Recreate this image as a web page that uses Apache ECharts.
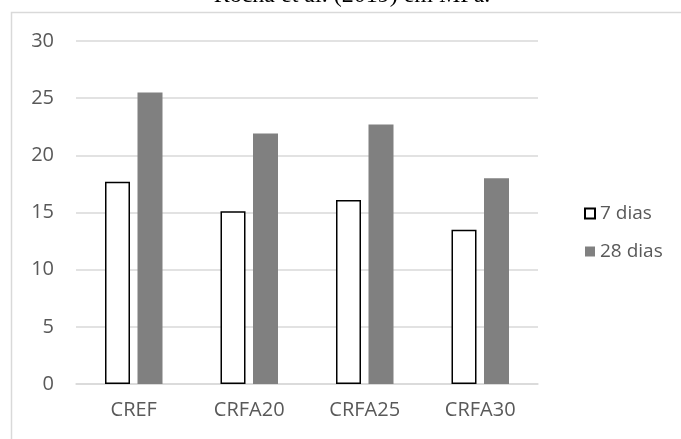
<!DOCTYPE html>
<html>
<head>
<meta charset="utf-8">
<script src="https://cdn.jsdelivr.net/npm/echarts@6/dist/echarts.min.js"></script>
<style>
  html, body { margin: 0; padding: 0; background: #fff; }
  #chart { width: 681px; height: 439px; }
</style>
</head>
<body>
<div id="chart"></div>
<script>
// Compressive strength (MPa) at 7 and 28 days per mix
const categories = ['CREF', 'CRFA20', 'CRFA25', 'CRFA30'];
const dias7 = [17.7, 15.1, 16.1, 13.5];
const dias28 = [25.5, 21.9, 22.7, 18.0];
const yTicks = [0, 5, 10, 15, 20, 25, 30];

const textColor = '#595959';
const gridColor = '#d9d9d9';
const labelFont = '"Open Sans", "Noto Sans", sans-serif';

const chart = echarts.init(document.getElementById('chart'), null, { renderer: 'canvas' });

chart.setOption({
  animation: false,
  backgroundColor: '#ffffff',
  graphic: [
    {
      // frame of the chart area (only top and left edges fall inside the page)
      type: 'rect',
      shape: { x: 11.5, y: 12.5, width: 900, height: 700 },
      style: { fill: 'none', stroke: gridColor, lineWidth: 1.5 },
      z: 0
    },
    {
      type: 'text',
      style: {
        text: 'Rocha et al. (2019) em MPa.',
        font: '24px "Liberation Serif", "DejaVu Serif", serif',
        fill: '#000',
        x: 352,
        y: 8,
        textAlign: 'center',
        textVerticalAlign: 'bottom'
      },
      z: 5
    }
  ],
  grid: { left: 76, right: 143, top: 41, bottom: 55, containLabel: false },
  legend: {
    orient: 'vertical',
    left: 579,
    top: 199,
    icon: 'rect',
    itemWidth: 10,
    itemHeight: 10,
    itemGap: 19,
    textStyle: { color: textColor, fontSize: 19, fontFamily: labelFont },
    data: ['7 dias', '28 dias']
  },
  xAxis: {
    type: 'category',
    data: categories,
    axisLine: { show: true, lineStyle: { color: gridColor, width: 1.5 } },
    axisTick: { show: false },
    axisLabel: { color: textColor, fontSize: 20, fontFamily: labelFont, margin: 16 }
  },
  yAxis: {
    type: 'value',
    min: yTicks[0],
    max: yTicks[yTicks.length - 1],
    interval: yTicks[1] - yTicks[0],
    axisLine: { show: false },
    axisTick: { show: false },
    splitLine: { lineStyle: { color: gridColor, width: 1.5 } },
    axisLabel: { color: textColor, fontSize: 20, fontFamily: labelFont, margin: 22 }
  },
  series: [
    {
      name: '7 dias',
      type: 'bar',
      data: dias7,
      barWidth: 25,
      barGap: '30%',
      itemStyle: { color: '#ffffff', borderColor: '#000000', borderWidth: 1.5 }
    },
    {
      name: '28 dias',
      type: 'bar',
      data: dias28,
      barWidth: 25,
      itemStyle: { color: '#808080' }
    }
  ]
});
</script>
</body>
</html>
